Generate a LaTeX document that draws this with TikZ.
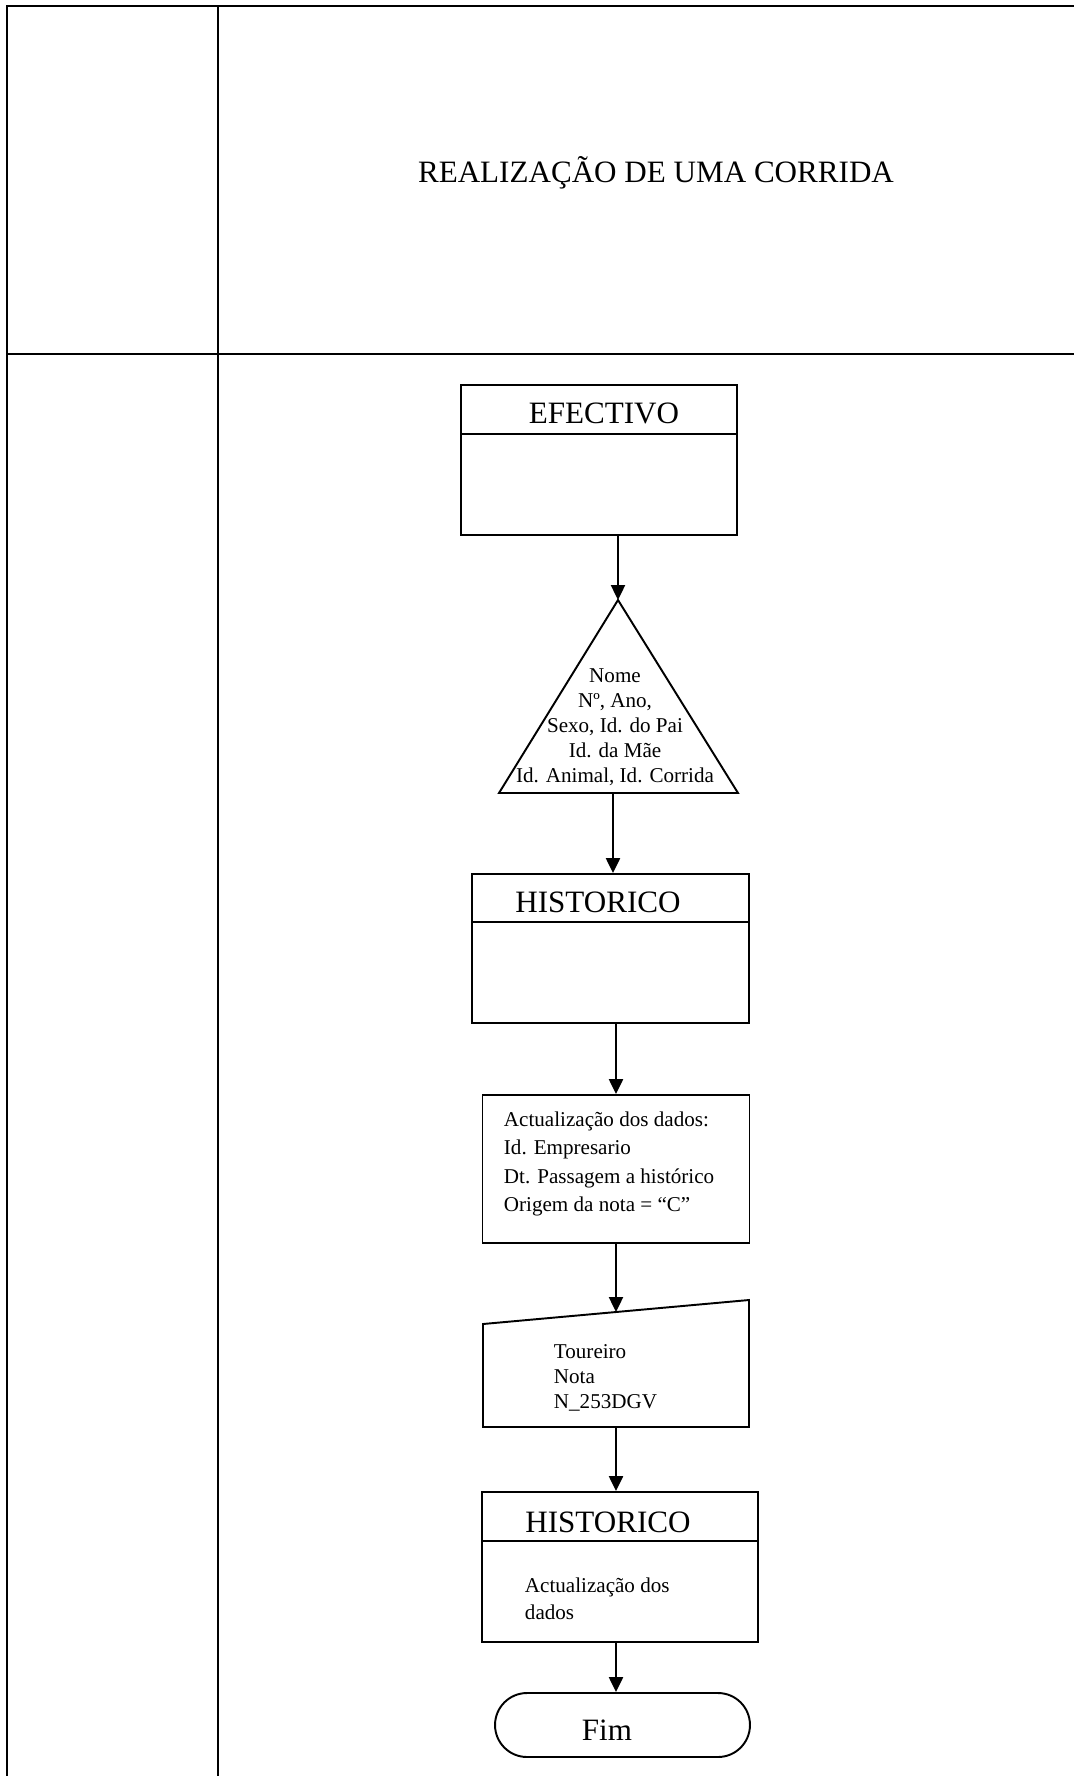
\documentclass[tikz,border=0pt]{standalone}
\usepackage{fontspec}
\setmainfont{Liberation Serif}
\usetikzlibrary{arrows.meta,calc}

\begin{document}
\begin{tikzpicture}[x=0.02cm, y=-0.02cm, line width=1.1pt,
  >={Triangle[width=8pt,length=8.5pt]},
  frame/.style={line width=1.3pt},
  big/.style={font=\fontsize{17.7}{21}\selectfont},
  small/.style={font=\fontsize{12}{#1}\selectfont},
  store/.style={draw, minimum width=5.52cm, minimum height=3cm, inner sep=0pt},
  txt/.style={inner sep=0pt, align=left, anchor=west}]

\useasboundingbox (0,0) rectangle (1074,1776);

\draw [frame] (7,1776) -- (7,6) -- (1074,6);
\draw [frame] (218,6) -- (218,1776);
\draw [frame] (7,354) -- (1074,354);
\node [big] (title) at (656,173) {REALIZAÇÃO DE UMA CORRIDA};

\node [store] (efectivo) at (599,460) {};
\draw ($(efectivo.north west)+(0,50)$) -- ($(efectivo.north east)+(0,50)$);
\node [big] (efectivoname) at (604,413) {EFECTIVO};

\coordinate (tritop) at (618,600);
\coordinate (tribase) at (613,793);
\draw [line join=miter] (tritop) -- (738,793) -- (499,793) -- cycle;
\node [small=14.2, align=center, inner sep=0pt] (campos) at (615,727)
  {Nome\\Nº, Ano,\\Sexo, Id. do Pai\\Id. da Mãe\\Id. Animal, Id. Corrida};

\node [store, minimum width=5.54cm, minimum height=2.98cm] (hist) at (610.5,948.5) {};
\draw ($(hist.north west)+(0,49)$) -- ($(hist.north east)+(0,49)$);
\node [big] (histname) at (598,902) {HISTORICO};

\node [store, minimum width=5.34cm, minimum height=2.96cm] (update) at (616,1169) {};
\node [txt, small=16.2] (updatetxt) at (503,1164)
  {Actualização dos dados:\\Id. Empresario\\Dt. Passagem a histórico\\Origem da nota = “C”};

\coordinate (mantop) at (616,1312);
\coordinate (manbot) at (616,1427);
\draw [line join=miter] (483,1324) -- (749,1300) -- (749,1427) -- (483,1427) -- cycle;
\node [txt, small=14.2] (mantxt) at (553,1378) {Toureiro\\Nota\\N\_253DGV};

\node [store] (histb) at (620,1567) {};
\draw ($(histb.north west)+(0,50)$) -- ($(histb.north east)+(0,50)$);
\node [big] (histbname) at (608,1522) {HISTORICO};
\node [txt, small=15.3] (histbtxt) at (524,1599) {Actualização dos\\dados};

\node [draw, rounded corners=0.64cm, minimum width=5.1cm, minimum height=1.28cm] (fim) at (622.5,1725) {};
\node [big] (fimtxt) at (607,1730) {Fim};

\draw [->] (efectivo.south -| tritop) -- (tritop);
\draw [->] (tribase) -- (tribase |- hist.north);
\draw [->] (update.north |- hist.south) -- (update.north);
\draw [->] (update.south) -- (mantop);
\draw [->] (manbot) -- (manbot |- histb.north);
\draw [->] (manbot |- histb.south) -- (manbot |- fim.north);

\end{tikzpicture}
\end{document}
